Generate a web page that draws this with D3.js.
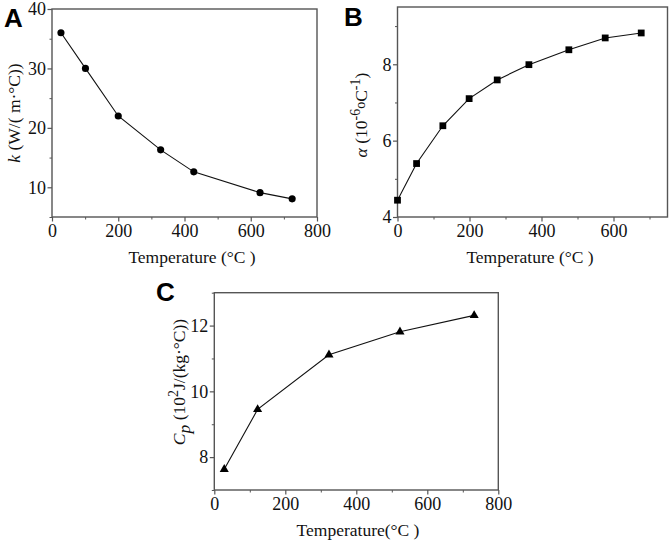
<!DOCTYPE html>
<html>
<head>
<meta charset="utf-8">
<script src="https://cdn.jsdelivr.net/npm/d3@7"></script>
<style>
  html, body { margin: 0; padding: 0; background: #fff; }
  svg { display: block; }
</style>
</head>
<body>
<div id="chart"></div>
<script>
// panel A: thermal conductivity
const tempA = [27, 101, 200, 328, 428, 628, 725];
const kA = [36, 30, 22, 16.3, 12.6, 9.1, 8.05];
// panel B: expansion coefficient
const tempB = [0, 53, 126, 199, 277, 365, 476, 577, 677];
const alphaB = [4.44, 5.40, 6.39, 7.10, 7.59, 7.99, 8.38, 8.69, 8.82];
// panel C: specific heat
const tempC = [28, 122, 323, 523, 732];
const cpC = [7.63, 9.45, 11.11, 11.81, 12.31];

// tick labels
const xTicksA = [0, 200, 400, 600, 800];
const yTicksA = [10, 20, 30, 40];
const xTicksB = [0, 200, 400, 600];
const yTicksB = [4, 6, 8];
const xTicksC = [0, 200, 400, 600, 800];
const yTicksC = [8, 10, 12];

const W = 671, H = 544;
const svg = d3.select("#chart").append("svg")
    .attr("width", W)
    .attr("height", H);

const serif = "'Liberation Serif', 'Times New Roman', serif";
const sans = "'Liberation Sans', Arial, sans-serif";
const fmt = d3.format("~g");

// mid points between major ticks -> minor ticks
function minorOf(major, domain) {
    const step = major[1] - major[0];
    const out = [];
    for (let v = major[0] - step / 2; v <= domain[1] + 1e-9; v += step) {
        if (v > domain[0] - 1e-9) out.push(v);
    }
    return out;
}

function addTitle(g, x, y, rotate, parts) {
    const t = g.append("text")
        .attr("transform", `translate(${x},${y})` + (rotate ? " rotate(-90)" : ""))
        .attr("text-anchor", "middle")
        .style("font-family", serif)
        .style("font-size", "17.5px")
        .attr("fill", "#111");
    let shift = 0;
    parts.forEach(p => {
        const s = t.append("tspan").text(p.t);
        const want = p.shift || 0;
        if (want !== shift) { s.attr("dy", want - shift); shift = want; }
        if (p.italic) s.style("font-style", "italic");
        if (p.size) s.style("font-size", p.size + "px");
    });
}

function drawPanel(cfg) {
    const x = d3.scaleLinear().domain(cfg.xDom).range([cfg.left, cfg.right]);
    const y = d3.scaleLinear().domain(cfg.yDom).range([cfg.bottom, cfg.top]);
    const g = svg.append("g");

    // minor ticks
    g.append("g")
        .attr("transform", `translate(0,${cfg.bottom})`)
        .call(d3.axisBottom(x).tickValues(minorOf(cfg.xTicks, cfg.xDom)).tickSize(2.5).tickSizeOuter(0).tickFormat(""))
        .call(a => a.select(".domain").remove())
        .selectAll("line").attr("stroke", "#555");
    g.append("g")
        .attr("transform", `translate(${cfg.left},0)`)
        .call(d3.axisLeft(y).tickValues(minorOf(cfg.yTicks, cfg.yDom)).tickSize(2.5).tickSizeOuter(0).tickFormat(""))
        .call(a => a.select(".domain").remove())
        .selectAll("line").attr("stroke", "#555");

    // major ticks
    const xa = g.append("g")
        .attr("transform", `translate(0,${cfg.bottom})`)
        .call(d3.axisBottom(x).tickValues(cfg.xTicks).tickFormat(fmt).tickSize(4.5).tickPadding(3).tickSizeOuter(0));
    const ya = g.append("g")
        .attr("transform", `translate(${cfg.left},0)`)
        .call(d3.axisLeft(y).tickValues(cfg.yTicks).tickFormat(fmt).tickSize(4.5).tickPadding(1.5).tickSizeOuter(0));
    [xa, ya].forEach(a => {
        a.select(".domain").remove();
        a.selectAll("line").attr("stroke", "#555").attr("stroke-width", 1.2);
        a.selectAll("text")
            .style("font-family", serif)
            .style("font-size", "18px")
            .attr("fill", "#111");
    });

    // frame
    g.append("rect")
        .attr("x", cfg.left)
        .attr("y", cfg.top)
        .attr("width", cfg.right - cfg.left)
        .attr("height", cfg.bottom - cfg.top)
        .attr("fill", "none")
        .attr("stroke", "#555")
        .attr("stroke-width", 1.4);

    // data line
    const pts = cfg.xs.map((v, i) => [v, cfg.ys[i]]);
    g.append("path")
        .datum(pts)
        .attr("fill", "none")
        .attr("stroke", "#111")
        .attr("stroke-width", 1.1)
        .attr("d", d3.line().x(d => x(d[0])).y(d => y(d[1])));

    // markers
    g.selectAll(".mk")
        .data(pts)
        .enter()
        .append("path")
        .attr("class", "mk")
        .attr("transform", d => `translate(${x(d[0])},${y(d[1])})`)
        .attr("d", d3.symbol().type(cfg.symbol).size(cfg.symbolSize))
        .attr("fill", "#000");

    // panel letter
    svg.append("text")
        .attr("x", cfg.labelX)
        .attr("y", cfg.labelY)
        .style("font-family", sans)
        .style("font-weight", "bold")
        .style("font-size", "26px")
        .attr("fill", "#000")
        .text(cfg.id);

    addTitle(g, cfg.xTitleX, cfg.bottom + 46, false, cfg.xTitle);
    addTitle(g, cfg.yTitleX, cfg.yTitleY, true, cfg.yTitle);
}

drawPanel({
    id: "A", labelX: 4, labelY: 27,
    left: 52, right: 317, top: 9, bottom: 217,
    xDom: [0, 800], yDom: [5, 40],
    xTicks: xTicksA, yTicks: yTicksA,
    xs: tempA, ys: kA,
    symbol: d3.symbolCircle, symbolSize: 40,
    xTitleX: 192, xTitle: [{ t: "Temperature (°C )" }],
    yTitleX: 20, yTitleY: 113,
    yTitle: [{ t: "k", italic: true }, { t: " (W/( m·°C))" }]
});

drawPanel({
    id: "B", labelX: 344, labelY: 26,
    left: 397.5, right: 667.5, top: 7, bottom: 217,
    xDom: [0, 750], yDom: [4, 9.5],
    xTicks: xTicksB, yTicks: yTicksB,
    xs: tempB, ys: alphaB,
    symbol: d3.symbolSquare, symbolSize: 46,
    xTitleX: 530, xTitle: [{ t: "Temperature (°C )" }],
    yTitleX: 367, yTitleY: 115,
    yTitle: [
        { t: "α", italic: true }, { t: " (10" },
        { t: "-6", shift: -7, size: 14 },
        { t: "o", shift: -2, size: 14 },
        { t: "C" },
        { t: "-1", shift: -7, size: 14 },
        { t: ")" }
    ]
});

drawPanel({
    id: "C", labelX: 156, labelY: 301,
    left: 214.3, right: 498.3, top: 292.7, bottom: 490,
    xDom: [0, 800], yDom: [7, 13],
    xTicks: xTicksC, yTicks: yTicksC,
    xs: tempC, ys: cpC,
    symbol: d3.symbolTriangle, symbolSize: 36,
    xTitleX: 358, xTitle: [{ t: "Temperature(°C )" }],
    yTitleX: 185, yTitleY: 382,
    yTitle: [
        { t: "C", italic: true },
        { t: "p", italic: true, shift: 5 },
        { t: " (10" },
        { t: "2", shift: -7, size: 14 },
        { t: "J/(kg·°C))" }
    ]
});
</script>
</body>
</html>
